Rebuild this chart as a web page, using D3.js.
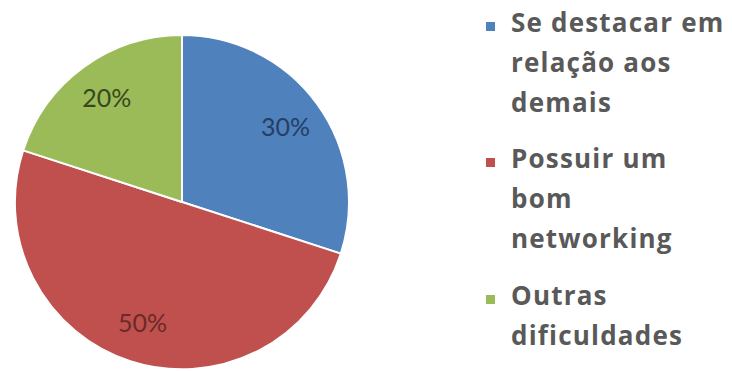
<!DOCTYPE html>
<html>
<head>
<meta charset="utf-8">
<script src="https://cdn.jsdelivr.net/npm/d3@7"></script>
<style>
  html, body { margin: 0; padding: 0; background: #fff; }
  svg { display: block; }
</style>
</head>
<body>
<svg id="chart" width="732" height="371"></svg>
<script>
// Category names (each split into the lines shown in the legend)
const categories = ["Se destacar em relação aos demais", "Possuir um bom networking", "Outras dificuldades"];
const legendLines = [
  ["Se destacar em", "relação aos", "demais"],
  ["Possuir um", "bom", "networking"],
  ["Outras", "dificuldades"]
];
// Share of answers per category (percent)
const values = [30, 50, 20];
const sliceColors = ["#4f81bd", "#c0504d", "#9bbb59"];
const labelColors = ["#263e66", "#6a2a29", "#38481c"];

const svg = d3.select("#chart");
const cx = 182, cy = 202, radius = 167;

const pie = d3.pie().sort(null).value(d => d.value);
const arcs = pie(categories.map((c, i) => ({ name: c, value: values[i], i })));

const arc = d3.arc().innerRadius(0).outerRadius(radius);
const labelArc = d3.arc().innerRadius(128).outerRadius(128);

const g = svg.append("g").attr("transform", `translate(${cx},${cy})`);

g.selectAll("path.slice")
  .data(arcs)
  .join("path")
  .attr("class", "slice")
  .attr("d", arc)
  .attr("fill", d => sliceColors[d.data.i])
  .attr("stroke", "#fff")
  .attr("stroke-width", 2)
  .attr("stroke-linejoin", "round");

g.selectAll("text.pct")
  .data(arcs)
  .join("text")
  .attr("class", "pct")
  .attr("transform", d => {
    const [x, y] = labelArc.centroid(d);
    return `translate(${x},${y})`;
  })
  .attr("text-anchor", "middle")
  .attr("dy", "0.35em")
  .attr("font-family", "Lato, 'Open Sans', sans-serif")
  .attr("font-size", 25)
  .attr("fill", d => labelColors[d.data.i])
  .text(d => d.data.value + "%");

// Legend on the right
const legendX = 511, lineH = 40;
const itemTops = [32, 168, 305];
const legend = svg.append("g");

legendLines.forEach((lines, i) => {
  const y0 = itemTops[i];
  legend.append("rect")
    .attr("x", 486)
    .attr("y", y0 - 10)
    .attr("width", 9)
    .attr("height", 9)
    .attr("fill", sliceColors[i]);
  const t = legend.append("text")
    .attr("font-family", "'Open Sans', Lato, sans-serif")
    .attr("font-weight", "bold")
    .attr("font-size", 26)
    .attr("letter-spacing", 1.2)
    .attr("fill", "#595959");
  lines.forEach((ln, j) => {
    t.append("tspan")
      .attr("x", legendX)
      .attr("y", y0 + j * lineH)
      .text(ln);
  });
});
</script>
</body>
</html>
